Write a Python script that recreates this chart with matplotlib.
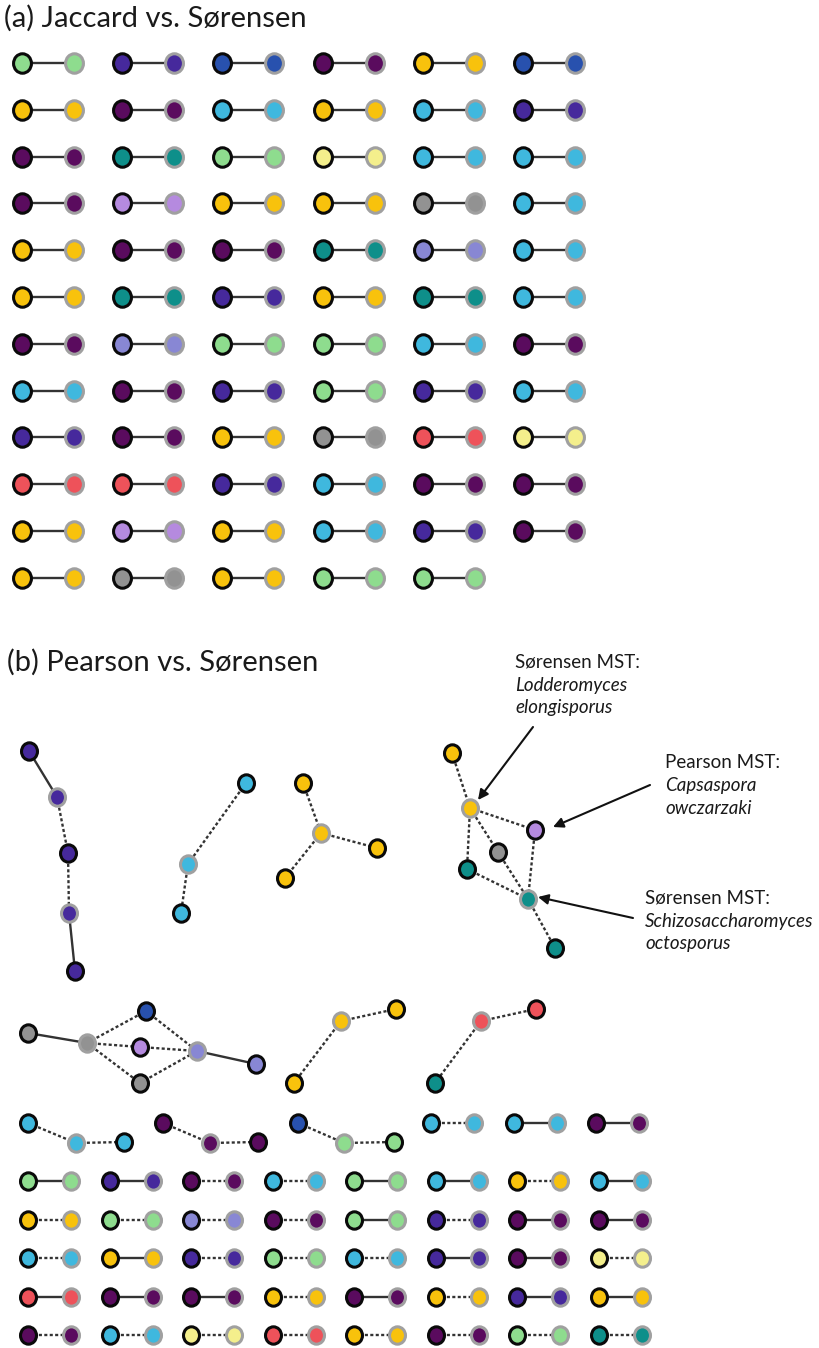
import numpy as np
import matplotlib.pyplot as plt
from matplotlib.path import Path
from matplotlib.transforms import Affine2D

plt.rcParams['font.family'] = ['Lato', 'DejaVu Sans']

PAL = {
    "lgreen": "#8EDC8E", "indigo": "#46299C", "blue": "#2851AE",
    "dpurple": "#5A0B5E", "yellow": "#F8C20C", "cyan": "#3FB8DE",
    "teal": "#0E8F8A", "lyellow": "#F4EF8C", "lavender": "#B58ADF",
    "gray": "#929292", "peri": "#8887D4", "red": "#EE525A",
}
RING = {"k": "#0A0A0A", "g": "#A0A0A0"}

# (a) Jaccard vs. Sørensen -- one pair per cell, read row by row (6 per row)
a_colors = [
    "lgreen", "indigo", "blue", "dpurple", "yellow", "blue",
    "yellow", "dpurple", "cyan", "yellow", "cyan", "indigo",
    "dpurple", "teal", "lgreen", "lyellow", "cyan", "cyan",
    "dpurple", "lavender", "yellow", "yellow", "gray", "cyan",
    "yellow", "dpurple", "dpurple", "teal", "peri", "cyan",
    "yellow", "teal", "indigo", "yellow", "teal", "cyan",
    "dpurple", "peri", "lgreen", "lgreen", "cyan", "dpurple",
    "cyan", "dpurple", "indigo", "lgreen", "indigo", "cyan",
    "indigo", "dpurple", "yellow", "gray", "red", "lyellow",
    "red", "red", "indigo", "cyan", "dpurple", "dpurple",
    "yellow", "lavender", "yellow", "cyan", "indigo", "dpurple",
    "yellow", "gray", "yellow", "lgreen", "lgreen",
]

# (b) small networks: nodes (x, y, colour, ring) and edges (i, j, style)
net_indigo = [(29, 751, "indigo", "k"), (57, 797, "indigo", "g"), (68, 853, "indigo", "k"),
              (69, 913, "indigo", "g"), (75, 971, "indigo", "k")]
net_indigo_e = [(0, 1, "s"), (1, 2, "d"), (2, 3, "d"), (3, 4, "s")]

net_cyan = [(246, 783, "cyan", "k"), (188, 864, "cyan", "g"), (181, 913, "cyan", "k")]
net_cyan_e = [(0, 1, "d"), (1, 2, "d")]

net_star = [(303, 783, "yellow", "k"), (321, 833, "yellow", "g"), (377, 848, "yellow", "k"),
            (285, 878, "yellow", "k")]
net_star_e = [(0, 1, "d"), (1, 2, "d"), (1, 3, "d")]

net_big = [(452, 753, "yellow", "k"), (470, 808, "yellow", "g"), (535, 830, "lavender", "k"),
           (498, 852, "gray", "k"), (467, 869, "teal", "k"), (528, 899, "teal", "g"),
           (555, 948, "teal", "k")]
net_big_e = [(0, 1, "d"), (1, 2, "d"), (1, 3, "d"), (1, 4, "d"), (3, 5, "d"),
             (2, 5, "d"), (4, 5, "d"), (5, 6, "d")]

net_diamond = [(28, 1033, "gray", "k"), (87, 1043, "gray", "g"), (146, 1011, "blue", "k"),
               (140, 1047, "lavender", "k"), (140, 1083, "gray", "k"), (197, 1051, "peri", "g"),
               (256, 1064, "peri", "k")]
net_diamond_e = [(0, 1, "s"), (1, 2, "d"), (1, 3, "d"), (1, 4, "d"), (2, 5, "d"),
                 (3, 5, "d"), (4, 5, "d"), (5, 6, "s")]

net_yel = [(341, 1021, "yellow", "g"), (396, 1009, "yellow", "k"), (294, 1083, "yellow", "k")]
net_red = [(481, 1021, "red", "g"), (536, 1009, "red", "k"), (435, 1083, "teal", "k")]
net_v_e = [(0, 1, "d"), (0, 2, "d")]

net_tri1 = [(28, 1123, "cyan", "k"), (76, 1143, "cyan", "g"), (124, 1142, "cyan", "k")]
net_tri2 = [(163, 1123, "dpurple", "k"), (210, 1143, "dpurple", "g"), (258, 1142, "dpurple", "k")]
net_tri3 = [(298, 1123, "blue", "k"), (344, 1143, "lgreen", "g"), (394, 1142, "lgreen", "k")]
net_tri_e = [(0, 1, "d"), (1, 2, "d")]

# (b) pairs beside the triplets
b_row_colors = ["cyan", "cyan", "dpurple"]
b_row_style = ["d", "s", "s"]

# (b) pairs grid, 8 per row
b_grid_colors = [
    "lgreen", "indigo", "dpurple", "cyan", "lgreen", "cyan", "yellow", "cyan",
    "yellow", "lgreen", "peri", "dpurple", "lgreen", "indigo", "dpurple", "dpurple",
    "cyan", "yellow", "indigo", "lgreen", "cyan", "indigo", "dpurple", "lyellow",
    "red", "dpurple", "dpurple", "yellow", "dpurple", "yellow", "indigo", "yellow",
    "dpurple", "cyan", "lyellow", "red", "yellow", "dpurple", "lgreen", "teal",
]
b_grid_style = [
    "s", "s", "d", "d", "s", "s", "d", "s",
    "d", "d", "d", "d", "s", "d", "s", "s",
    "d", "s", "d", "d", "d", "s", "s", "d",
    "s", "s", "s", "d", "s", "d", "s", "s",
    "d", "d", "d", "d", "d", "d", "d", "d",
]

ELL = Path.unit_circle().transformed(Affine2D().scale(0.92, 1.0))
MS = 12.5
MEW = 2.2

fig = plt.figure(figsize=(8.19, 13.48), dpi=100)
ax = fig.add_axes([0, 0, 1, 1])
ax.set_xlim(0, 819)
ax.set_ylim(1348, 0)
ax.axis("off")


def edge(p, q, style):
    if style == "s":
        ax.plot([p[0], q[0]], [p[1], q[1]], color="#333333", lw=1.7, zorder=1,
                solid_capstyle="butt")
    else:
        ax.plot([p[0], q[0]], [p[1], q[1]], color="#333333", lw=1.7, zorder=1,
                linestyle=(0, (1.3, 1.0)))


def node(x, y, c, ring, ms=MS):
    ax.plot(x, y, marker=ELL, ms=ms, mfc=PAL[c], mec=RING[ring], mew=MEW,
            linestyle="none", zorder=3)


def draw_net(nodes, edges):
    for i, j, st in edges:
        edge(nodes[i], nodes[j], st)
    for x, y, c, r in nodes:
        node(x, y, c, r)


# ---- (a)
ax.text(4, 18, "(a) Jaccard vs. Sørensen", fontsize=21, ha="left", va="center",
        color="#1A1A1A")
for k, c in enumerate(a_colors):
    row, col = divmod(k, 6)
    y = 63 + row * 46.8
    x0 = 22 + col * 100.2
    x1 = x0 + 52
    edge((x0, y), (x1, y), "s")
    node(x0, y, c, "k", ms=14)
    node(x1, y, c, "g", ms=14)

# ---- (b)
ax.text(7, 662, "(b) Pearson vs. Sørensen", fontsize=21, ha="left", va="center",
        color="#1A1A1A")

draw_net(net_indigo, net_indigo_e)
draw_net(net_cyan, net_cyan_e)
draw_net(net_star, net_star_e)
draw_net(net_big, net_big_e)
draw_net(net_diamond, net_diamond_e)
draw_net(net_yel, net_v_e)
draw_net(net_red, net_v_e)
draw_net(net_tri1, net_tri_e)
draw_net(net_tri2, net_tri_e)
draw_net(net_tri3, net_tri_e)

for k, (c, st) in enumerate(zip(b_row_colors, b_row_style)):
    x0 = 431 + k * 82.5
    x1 = x0 + 43
    edge((x0, 1123), (x1, 1123), st)
    node(x0, 1123, c, "k")
    node(x1, 1123, c, "g")

for k, (c, st) in enumerate(zip(b_grid_colors, b_grid_style)):
    row, col = divmod(k, 8)
    y = 1181 + row * 38.6
    x0 = 28 + col * 81.5
    x1 = x0 + 43
    edge((x0, y), (x1, y), st)
    node(x0, y, c, "k")
    node(x1, y, c, "g")

# annotations
ann_kw = dict(fontsize=13.5, ha="left", va="center", color="#1A1A1A")
ax.text(515, 662, "Sørensen MST:", **ann_kw)
ax.text(515, 685, "Lodderomyces", style="italic", **ann_kw)
ax.text(515, 708, "elongisporus", style="italic", **ann_kw)

ax.text(665, 763, "Pearson MST:", **ann_kw)
ax.text(665, 786, "Capsaspora", style="italic", **ann_kw)
ax.text(665, 809, "owczarzaki", style="italic", **ann_kw)

ax.text(645, 898, "Sørensen MST:", **ann_kw)
ax.text(645, 921, "Schizosaccharomyces", style="italic", **ann_kw)
ax.text(645, 944, "octosporus", style="italic", **ann_kw)

arr = dict(arrowstyle="-|>", color="#111111", lw=1.5, mutation_scale=15,
           shrinkA=0, shrinkB=0)
ax.annotate("", xy=(478, 800), xytext=(533, 727), arrowprops=arr)
ax.annotate("", xy=(553, 827), xytext=(650, 785), arrowprops=arr)
ax.annotate("", xy=(538, 897), xytext=(633, 918), arrowprops=arr)

fig.savefig("out.png", dpi=100, facecolor="white")
